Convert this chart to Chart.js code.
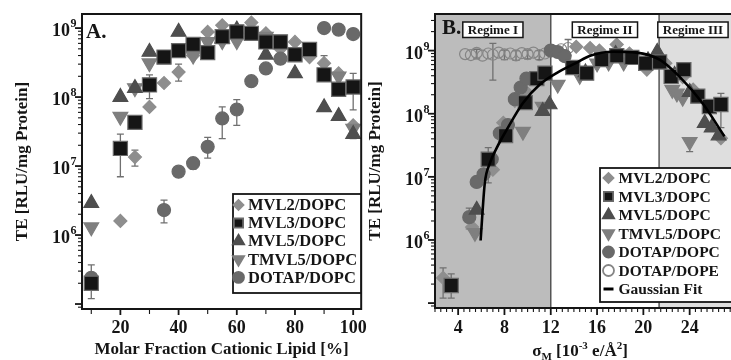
<!DOCTYPE html>
<html>
<head>
<meta charset="utf-8">
<script src="https://cdn.jsdelivr.net/npm/chart.js@4"></script>
<style>
  html, body { margin: 0; padding: 0; background: #fff; width: 731px; height: 360px; overflow: hidden; }
  #chartA { position: absolute; left: 0; top: 0; }
  #chartB { position: absolute; left: 360px; top: 0; }
</style>
</head>
<body>
<canvas id="chartA" width="376" height="360"></canvas>
<canvas id="chartB" width="386" height="360"></canvas>
<script>
// ---- panel A: TE vs molar fraction of cationic lipid (%) ----
const mvl2FracA = [10, 20, 25, 30, 35, 40, 45, 50, 55, 65, 70, 75, 80, 85, 90, 95, 100];
const mvl2TeA = [2.2e5, 1.6e6, 1.35e7, 7.2e7, 1.6e8, 2.3e8, 4.0e8, 8.8e8, 1.1e9, 1.2e9, 8.4e8, 5.0e8, 6.3e8, 3.8e8, 3.1e8, 2.2e8, 3.9e7];
const mvl3FracA = [10, 20, 25, 30, 35, 40, 45, 50, 55, 60, 65, 70, 75, 80, 85, 90, 95, 100];
const mvl3TeA = [2.0e5, 1.8e7, 4.3e7, 1.5e8, 3.8e8, 4.7e8, 5.8e8, 4.4e8, 7.5e8, 8.8e8, 8.4e8, 6.3e8, 6.3e8, 4.1e8, 4.9e8, 2.1e8, 1.3e8, 1.4e8];
const mvl5FracA = [10, 20, 25, 30, 40, 55, 60, 70, 80, 90, 95, 100];
const mvl5TeA = [2.9e6, 1.0e8, 1.35e8, 4.5e8, 8.8e8, 7.0e8, 9.5e8, 4.1e8, 2.2e8, 7.1e7, 5.3e7, 2.9e7];
const tmvl5FracA = [10, 20, 25, 30, 45, 50, 55, 60, 70, 95, 100];
const tmvl5TeA = [1.3e6, 5.2e7, 1.35e8, 3.1e8, 4.0e8, 6.3e8, 6.5e8, 6.5e8, 7.5e8, 2.0e8, 3.5e7];
const dotapFracA = [10, 35, 40, 45, 50, 55, 60, 65, 70, 75, 90, 95, 100];
const dotapTeA = [2.4e5, 2.3e6, 8.3e6, 1.1e7, 1.9e7, 4.9e7, 6.6e7, 1.7e8, 2.6e8, 3.6e8, 1.0e9, 9.5e8, 8.2e8];
// error bars [x, low, high]
const errA = [
  [10, 1.2e5, 3.7e5], [20, 7e6, 2.9e7], [25, 3.4e7, 5.0e7], [30, 9.5e7, 2.1e8], [60, 7.0e8, 1.05e9], [100, 6.5e7, 2.2e8],
  [25, 1.0e7, 1.7e7], [40, 1.7e8, 3.0e8], [90, 2.3e8, 4.0e8],
  [35, 1.5e6, 3.2e6], [45, 9e6, 1.3e7], [50, 1.3e7, 2.6e7], [55, 2.5e7, 7.2e7], [60, 3.9e7, 9.2e7], [100, 2.5e7, 3.4e7]
];
const fracTicksA = [10, 20, 30, 40, 50, 60, 70, 80, 90, 100];
const fracLabelsA = [20, 40, 60, 80, 100];

// ---- panel B: TE vs membrane charge density sigma_M ----
const mvl2SigB = [2.7, 5.2, 7.0, 7.9, 8.9, 9.8, 11.2, 12.9, 14.2, 15.4, 16.2, 17.7, 18.8, 20.3, 21.9, 23.4, 24.3, 26.7];
const mvl2TeB = [2.5e5, 1.6e6, 1.3e7, 7.2e7, 1.6e8, 2.3e8, 4.0e8, 8.8e8, 1.15e9, 1.1e9, 1.0e9, 1.25e9, 9.0e8, 5.0e8, 6.3e8, 3.8e8, 2.4e8, 4.1e7];
const mvl3SigB = [3.4, 6.6, 8.1, 9.8, 10.8, 11.5, 13.9, 15.1, 16.4, 17.7, 19.0, 20.2, 21.4, 22.4, 23.5, 24.7, 25.7, 26.7];
const mvl3TeB = [1.9e5, 1.9e7, 4.5e7, 1.5e8, 3.6e8, 4.4e8, 5.4e8, 4.4e8, 7.2e8, 8.3e8, 7.8e8, 6.3e8, 6.6e8, 3.9e8, 5.0e8, 1.9e8, 1.3e8, 1.4e8];
const mvl5SigB = [5.6, 11.3, 11.9, 15.0, 17.6, 20.4, 21.2, 22.7, 24.0, 25.3, 25.9, 26.5];
const mvl5TeB = [3.0e6, 1.1e8, 1.4e8, 4.5e8, 8.8e8, 7.0e8, 9.5e8, 4.1e8, 2.2e8, 7.1e7, 6.0e7, 4.5e7];
const tmvl5SigB = [5.45, 9.6, 11.3, 12.6, 14.5, 16.0, 17.0, 18.3, 22.5, 22.9, 23.4, 24.0];
const tmvl5TeB = [1.3e6, 5.2e7, 1.3e8, 2.9e8, 4.0e8, 6.3e8, 6.5e8, 6.5e8, 2.4e8, 2.1e8, 1.8e8, 3.6e7];
const dotapSigB = [4.96, 5.6, 6.2, 6.9, 7.6, 8.3, 8.9, 9.4, 9.9, 12.0, 12.6, 13.2];
const dotapTeB = [2.3e6, 8.3e6, 1.1e7, 1.9e7, 4.9e7, 6.6e7, 1.7e8, 2.6e8, 3.6e8, 1.0e9, 9.5e8, 8.2e8];
const dopeSigB = [4.6, 5.1, 5.6, 6.1, 6.6, 7.0, 7.5, 8.0, 8.5, 9.0, 9.5, 10.0, 10.5, 11.0, 11.5, 12.2, 12.9, 13.5];
const dopeTeB = [8.8e8, 8.5e8, 9.2e8, 8.3e8, 9.0e8, 8.6e8, 9.3e8, 8.7e8, 9.0e8, 8.4e8, 9.1e8, 8.8e8, 9.3e8, 8.5e8, 9.0e8, 1.0e9, 1.05e9, 1.1e9];
const fitSigB = [5.94, 6.3, 6.75, 7.3, 8.2, 9.6, 11.05, 12.5, 14.2, 15.4, 17.4, 19.4, 21.4, 23.1, 25.1, 27.0];
const fitTeB = [9.8e5, 7.9e6, 1.66e7, 2.8e7, 5.6e7, 1.48e8, 2.9e8, 4.4e8, 6.4e8, 8.3e8, 9.6e8, 9.3e8, 7.2e8, 3.9e8, 1.48e8, 4.4e7];
const errB = [
  [2.7, 1.2e5, 3.6e5], [3.4, 1.2e5, 2.9e5], [6.6, 8e6, 2.9e7], [26.7, 6.0e7, 2.1e8], [24.0, 2.5e7, 3.6e7],
  [4.96, 1.5e6, 3.2e6], [7.0, 3.4e8, 1.3e9], [5.6, 7.4e8, 1.05e9], [8.0, 7.2e8, 1.02e9],
  [9.0, 7.0e8, 1.0e9], [10.0, 7.4e8, 1.02e9], [11.0, 7.2e8, 1.0e9], [13.5, 8.5e8, 1.5e9]
];
const sigLabelsB = [4, 8, 12, 16, 20, 24];
const regimeEdgesB = [12, 21.36];
const regimeNamesB = ['Regime I', 'Regime II', 'Regime III'];

const yDecades = [1e6, 1e7, 1e8, 1e9];
const yDecadeExps = ['6', '7', '8', '9'];
const namesA = ['MVL2/DOPC', 'MVL3/DOPC', 'MVL5/DOPC', 'TMVL5/DOPC', 'DOTAP/DOPC'];
const namesB = ['MVL2/DOPC', 'MVL3/DOPC', 'MVL5/DOPC', 'TMVL5/DOPC', 'DOTAP/DOPC', 'DOTAP/DOPE', 'Gaussian Fit'];

const SERIF = '"Liberation Serif", "Times New Roman", serif';
const INK = '#151515';
Chart.defaults.font.family = SERIF;
Chart.defaults.font.weight = 'bold';
Chart.defaults.color = INK;

const STY = {
  mvl2: { pointStyle: 'rectRot', rotation: 0, radius: 6.5, fill: '#8e8e8e', edge: '#8e8e8e' },
  mvl3: { pointStyle: 'rect', rotation: 0, radius: 10, fill: '#151515', edge: '#6a6a6a' },
  mvl5: { pointStyle: 'triangle', rotation: 0, radius: 8.5, fill: '#4e4e4e', edge: '#4e4e4e' },
  tmvl5: { pointStyle: 'triangle', rotation: 180, radius: 8.5, fill: '#7f7f7f', edge: '#7f7f7f' },
  dotap: { pointStyle: 'circle', rotation: 0, radius: 6.5, fill: '#696969', edge: '#696969' },
  dope: { pointStyle: 'circle', rotation: 0, radius: 5.5, fill: 'rgba(0,0,0,0)', edge: '#858585' }
};

const pts = (xs, ys) => xs.map((x, i) => ({ x, y: ys[i] }));

function ds(label, xs, ys, s, order) {
  return {
    label, data: pts(xs, ys), order,
    pointStyle: s.pointStyle, pointRotation: s.rotation, pointRadius: s.radius,
    pointBackgroundColor: s.fill, pointBorderColor: s.edge, pointBorderWidth: 1.2,
    backgroundColor: s.fill, borderColor: s.edge
  };
}

function logTicks(min, max) {
  const out = [];
  for (let e = Math.floor(Math.log10(min)); e <= Math.ceil(Math.log10(max)); e++) {
    for (let k = 1; k <= 9; k++) {
      const v = k * Math.pow(10, e);
      if (v >= min && v <= max) out.push({ value: v });
    }
  }
  return out;
}
const isDecade = v => Math.abs(Math.log10(v) - Math.round(Math.log10(v))) < 1e-6;

// "10" with a raised exponent, right-aligned next to the axis
function drawDecadeLabels(chart) {
  const { ctx, chartArea: a, scales: { y } } = chart;
  ctx.save();
  ctx.fillStyle = INK;
  ctx.textBaseline = 'alphabetic';
  ctx.textAlign = 'left';
  yDecades.forEach((d, i) => {
    const py = y.getPixelForValue(d);
    ctx.font = `bold 12px ${SERIF}`;
    const ew = ctx.measureText(yDecadeExps[i]).width;
    ctx.font = `bold 18px ${SERIF}`;
    const bw = ctx.measureText('10').width;
    const x0 = a.left - 6 - ew - bw;
    ctx.fillText('10', x0, py + 8);
    ctx.font = `bold 12px ${SERIF}`;
    ctx.fillText(yDecadeExps[i], x0 + bw + 0.5, py - 1);
  });
  ctx.restore();
}

function drawTickMarks(chart, isMajorX, majX, minX, majY, minY) {
  const { ctx, chartArea: a, scales: { x, y } } = chart;
  ctx.save();
  ctx.strokeStyle = INK;
  x.ticks.forEach(t => {
    const px = x.getPixelForValue(t.value);
    const major = isMajorX(t.value);
    ctx.lineWidth = major ? 1.8 : 1.1;
    ctx.beginPath();
    ctx.moveTo(px, a.bottom);
    ctx.lineTo(px, a.bottom + (major ? majX : minX));
    ctx.stroke();
  });
  y.ticks.forEach(t => {
    const py = y.getPixelForValue(t.value);
    const major = isDecade(t.value);
    ctx.lineWidth = major ? 1.8 : 1.1;
    ctx.beginPath();
    ctx.moveTo(a.left, py);
    ctx.lineTo(a.left - (major ? majY : minY), py);
    ctx.stroke();
  });
  ctx.lineWidth = 2;
  ctx.strokeRect(a.left, a.top, a.right - a.left, a.bottom - a.top);
  ctx.restore();
  drawDecadeLabels(chart);
}

function drawErrors(chart, list) {
  const { ctx, scales: { x, y } } = chart;
  ctx.save();
  ctx.strokeStyle = '#707070';
  ctx.lineWidth = 1.3;
  list.forEach(([v, lo, hi]) => {
    const px = x.getPixelForValue(v), p1 = y.getPixelForValue(lo), p2 = y.getPixelForValue(hi);
    ctx.beginPath();
    ctx.moveTo(px, p1); ctx.lineTo(px, p2);
    ctx.moveTo(px - 3.5, p1); ctx.lineTo(px + 3.5, p1);
    ctx.moveTo(px - 3.5, p2); ctx.lineTo(px + 3.5, p2);
    ctx.stroke();
  });
  ctx.restore();
}

function drawMarker(ctx, s, r, x, y) {
  ctx.fillStyle = s.fill;
  ctx.strokeStyle = s.edge;
  Chart.helpers.drawPoint(ctx, { pointStyle: s.pointStyle, rotation: s.rotation, radius: r, borderWidth: 1.2 }, x, y);
}

function drawLegend(ctx, box, names, styles, radii, fontSize, rowH, mx, tx) {
  ctx.save();
  ctx.fillStyle = '#fff';
  ctx.fillRect(box.x, box.y, box.w, box.h);
  ctx.strokeStyle = INK;
  ctx.lineWidth = 1.8;
  ctx.strokeRect(box.x, box.y, box.w, box.h);
  ctx.font = `bold ${fontSize}px ${SERIF}`;
  ctx.textBaseline = 'middle';
  ctx.textAlign = 'left';
  names.forEach((name, i) => {
    const cy = box.y + box.first + rowH * i;
    const s = styles[i];
    if (s) {
      drawMarker(ctx, s, radii[i], mx, cy);
    } else {
      ctx.strokeStyle = '#000';
      ctx.lineWidth = 3;
      ctx.beginPath(); ctx.moveTo(mx - 5, cy); ctx.lineTo(mx + 5, cy); ctx.stroke();
    }
    ctx.fillStyle = INK;
    ctx.fillText(name, tx, cy + 1);
  });
  ctx.restore();
}

const decorA = {
  id: 'decorA',
  beforeDatasetsDraw(chart) { drawErrors(chart, errA); },
  afterDraw(chart) {
    const ctx = chart.ctx;
    drawTickMarks(chart, v => fracLabelsA.includes(v), 6, 5, 7, 4);
    ctx.save();
    ctx.fillStyle = INK;
    ctx.font = `bold 21px ${SERIF}`;
    ctx.textBaseline = 'alphabetic';
    ctx.fillText('A.', 86, 38);
    ctx.restore();
    drawLegend(ctx, { x: 233, y: 194, w: 128, h: 99, first: 11 }, namesA,
      [STY.mvl2, STY.mvl3, STY.mvl5, STY.tmvl5, STY.dotap], [5, 6.5, 6.5, 6.5, 5.5], 16.5, 18.1, 238.5, 248);
  }
};

const decorB = {
  id: 'decorB',
  beforeDatasetsDraw(chart) {
    const { ctx, chartArea: a, scales: { x } } = chart;
    const e1 = x.getPixelForValue(regimeEdgesB[0]), e2 = x.getPixelForValue(regimeEdgesB[1]);
    ctx.save();
    ctx.fillStyle = '#bcbcbc';
    ctx.fillRect(a.left, a.top, e1 - a.left, a.bottom - a.top);
    ctx.fillStyle = '#dedede';
    ctx.fillRect(e2, a.top, a.right - e2, a.bottom - a.top);
    ctx.strokeStyle = '#555';
    ctx.lineWidth = 1.5;
    [e1, e2].forEach(px => { ctx.beginPath(); ctx.moveTo(px, a.top); ctx.lineTo(px, a.bottom); ctx.stroke(); });
    ctx.restore();
    drawErrors(chart, errB);
  },
  afterDraw(chart) {
    const { ctx, chartArea: a, scales: { x } } = chart;
    drawTickMarks(chart, v => sigLabelsB.includes(v), 7, 4, 7, 4);
    const e1 = x.getPixelForValue(regimeEdgesB[0]), e2 = x.getPixelForValue(regimeEdgesB[1]);
    const spans = [[a.left, e1], [e1, e2], [e2, a.right - 8]];
    ctx.save();
    ctx.font = `bold 13px ${SERIF}`;
    ctx.textAlign = 'center';
    ctx.textBaseline = 'middle';
    spans.forEach(([l, r], i) => {
      const cx = (l + r) / 2;
      const w = ctx.measureText(regimeNamesB[i]).width + 10;
      ctx.fillStyle = '#fff';
      ctx.fillRect(cx - w / 2, 22, w, 15.5);
      ctx.strokeStyle = INK;
      ctx.lineWidth = 1.5;
      ctx.strokeRect(cx - w / 2, 22, w, 15.5);
      ctx.fillStyle = INK;
      ctx.fillText(regimeNamesB[i], cx, 30.5);
    });
    ctx.textAlign = 'left';
    ctx.textBaseline = 'alphabetic';
    ctx.font = `bold 21px ${SERIF}`;
    ctx.fillText('B.', 82, 34);
    // x-axis title with sub/superscripts
    const big = `bold 17px ${SERIF}`, small = `bold 11px ${SERIF}`;
    const parts = [['\u03c3', big, 0], ['M', small, 4], [' [10', big, 0], ['-3', small, -7], [' e/\u00c5', big, 0], ['2', small, -7], [']', big, 0]];
    let total = 0;
    parts.forEach(p => { ctx.font = p[1]; total += ctx.measureText(p[0]).width; });
    let cx = 220 - total / 2;
    parts.forEach(p => { ctx.font = p[1]; ctx.fillText(p[0], cx, 356 + p[2]); cx += ctx.measureText(p[0]).width; });
    ctx.restore();
    drawLegend(ctx, { x: 240, y: 168, w: 150, h: 134, first: 10, }, namesB,
      [STY.mvl2, STY.mvl3, STY.mvl5, STY.tmvl5, STY.dotap, STY.dope, null], [5, 6.5, 6.5, 6.5, 5.5, 5.5, 0], 15.5, 18.5, 248.5, 258.5);
  }
};

const yScale = (min, max, width, titlePad) => ({
  type: 'logarithmic', min, max,
  afterBuildTicks: s => { s.ticks = logTicks(min, max); },
  afterFit: s => { s.width = width; },
  grid: { display: false, drawTicks: false },
  border: { display: false },
  ticks: { display: false, autoSkip: false },
  title: { display: true, text: 'TE [RLU/mg Protein]', color: INK, font: { size: 17, weight: 'bold' }, padding: { top: titlePad, bottom: 0 } }
});

new Chart(document.getElementById('chartA'), {
  type: 'scatter',
  data: {
    datasets: [
      ds(namesA[0], mvl2FracA, mvl2TeA, STY.mvl2, 5),
      ds(namesA[1], mvl3FracA, mvl3TeA, STY.mvl3, 1),
      ds(namesA[2], mvl5FracA, mvl5TeA, STY.mvl5, 2),
      ds(namesA[3], tmvl5FracA, tmvl5TeA, STY.tmvl5, 3),
      ds(namesA[4], dotapFracA, dotapTeA, STY.dotap, 4)
    ]
  },
  options: {
    responsive: false, animation: false, events: [],
    layout: { padding: { left: 0, top: 14, right: 3, bottom: 0 } },
    plugins: { legend: { display: false }, tooltip: { enabled: false } },
    scales: {
      x: {
        type: 'linear', min: 6.81, max: 102.75,
        afterBuildTicks: s => { s.ticks = fracTicksA.map(v => ({ value: v })); },
        afterFit: s => { s.height = 51; },
        grid: { display: false, drawTicks: false },
        border: { display: false },
        ticks: { autoSkip: false, maxRotation: 0, padding: 9, font: { size: 18, weight: 'bold' }, color: INK,
          callback: v => fracLabelsA.includes(v) ? String(v) : '' },
        title: { display: true, text: 'Molar Fraction Cationic Lipid [%]', color: INK, font: { size: 17, weight: 'bold' }, padding: { top: 0, bottom: 0 } }
      },
      y: yScale(8.47e4, 1.6e9, 82, 12)
    }
  },
  plugins: [decorA]
});

const sigTicksB = [];
for (let i = 4; i <= 55; i++) sigTicksB.push(i / 2);

new Chart(document.getElementById('chartB'), {
  type: 'scatter',
  data: {
    datasets: [
      { label: namesB[6], data: pts(fitSigB, fitTeB), showLine: true, borderColor: '#000', borderWidth: 2.6,
        pointRadius: 0, tension: 0.4, cubicInterpolationMode: 'monotone', order: 0 },
      ds(namesB[0], mvl2SigB, mvl2TeB, STY.mvl2, 5),
      ds(namesB[1], mvl3SigB, mvl3TeB, STY.mvl3, 1),
      ds(namesB[2], mvl5SigB, mvl5TeB, STY.mvl5, 2),
      ds(namesB[3], tmvl5SigB, tmvl5TeB, STY.tmvl5, 3),
      ds(namesB[4], dotapSigB, dotapTeB, STY.dotap, 4),
      ds(namesB[5], dopeSigB, dopeTeB, STY.dope, 6)
    ]
  },
  options: {
    responsive: false, animation: false, events: [],
    layout: { padding: { left: 0, top: 14, right: 10, bottom: 0 } },
    plugins: { legend: { display: false }, tooltip: { enabled: false } },
    scales: {
      x: {
        type: 'linear', min: 2.0, max: 27.9,
        afterBuildTicks: s => { s.ticks = sigTicksB.map(v => ({ value: v })); },
        afterFit: s => { s.height = 52; },
        grid: { display: false, drawTicks: false },
        border: { display: false },
        ticks: { autoSkip: false, maxRotation: 0, padding: 10, font: { size: 18, weight: 'bold' }, color: INK,
          callback: v => sigLabelsB.includes(v) ? String(v) : '' },
        title: { display: false }
      },
      y: yScale(8.36e4, 3.8e9, 75, 5)
    }
  },
  plugins: [decorB]
});
</script>
</body>
</html>
